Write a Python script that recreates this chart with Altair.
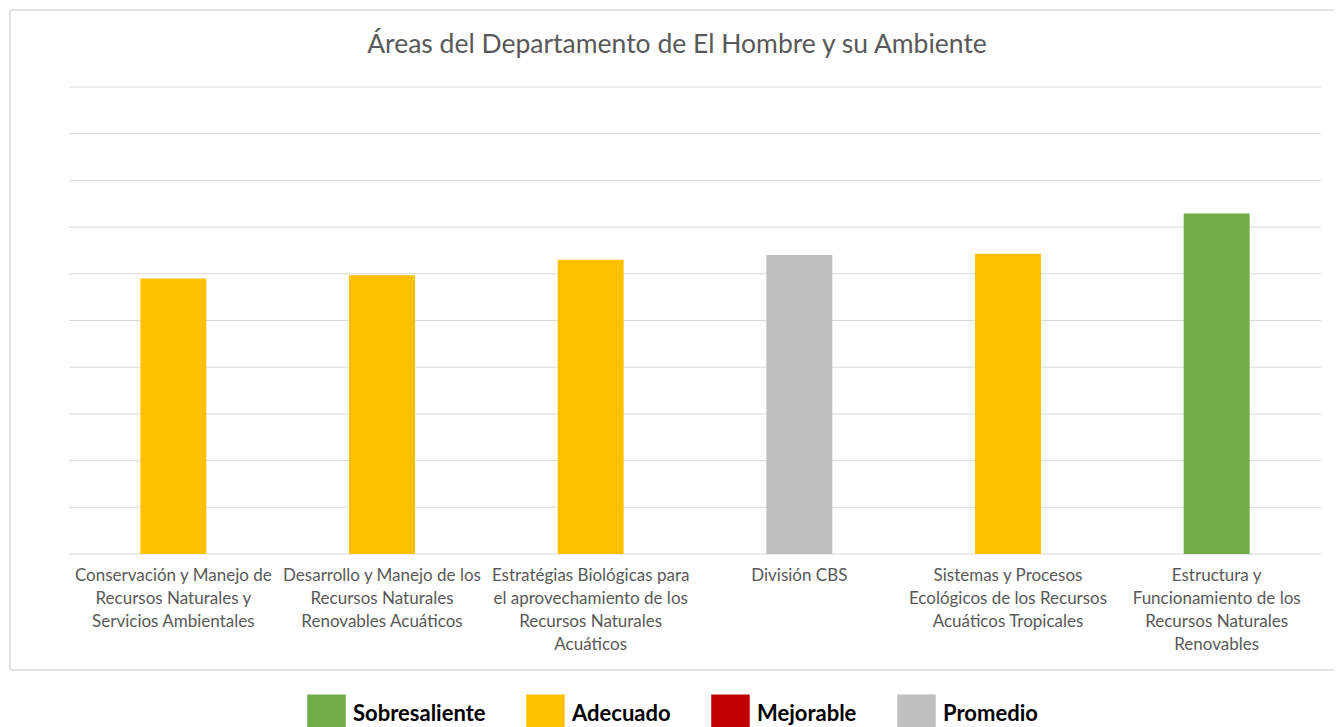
import altair as alt
import pandas as pd

# ---- data ----
areas = [
    "Conservación y Manejo de\nRecursos Naturales y\nServicios Ambientales",
    "Desarrollo y Manejo de los\nRecursos Naturales\nRenovables Acuáticos",
    "Estratégias Biológicas para\nel aprovechamiento de los\nRecursos Naturales\nAcuáticos",
    "División CBS",
    "Sistemas y Procesos\nEcológicos de los Recursos\nAcuáticos Tropicales",
    "Estructura y\nFuncionamiento de los\nRecursos Naturales\nRenovables",
]
values = [5.90, 5.97, 6.30, 6.40, 6.43, 7.29]
levels = ["Adecuado", "Adecuado", "Adecuado", "Promedio", "Adecuado", "Sobresaliente"]

legend_levels = ["Sobresaliente", "Adecuado", "Mejorable", "Promedio"]
legend_colors = ["#70AD47", "#FFC000", "#C00000", "#BFBFBF"]

grid_values = [0, 1, 2, 3, 4, 5, 6, 7, 8, 9, 10]
title_text = "Áreas del Departamento de El Hombre y su Ambiente"

FONT = "Lato"
GRAY_TXT = "#595959"
BORDER = "#D9D9D9"

df = pd.DataFrame({"idx": list(range(len(areas))), "area": areas, "valor": values, "nivel": levels})
grid_df = pd.DataFrame({"g": grid_values})
title_df = pd.DataFrame({"t": [title_text]})
one = pd.DataFrame({"k": [0]})

W, H = 1324, 660

xscale = alt.Scale(domain=list(range(len(areas))), range=[59, 1311], paddingInner=0.684, paddingOuter=0.342)
yscale = alt.Scale(domain=[0, 10], range=[544, 77], nice=False, zero=True)

# chart frame (top, left, bottom; right edge lies beyond the picture)
frame_top = alt.Chart(one).mark_rule(color=BORDER, strokeWidth=1.5).encode(
    x=alt.value(0), x2=alt.value(W + 5), y=alt.value(0))
frame_bottom = alt.Chart(one).mark_rule(color=BORDER, strokeWidth=1.5).encode(
    x=alt.value(0), x2=alt.value(W + 5), y=alt.value(H))
frame_left = alt.Chart(one).mark_rule(color=BORDER, strokeWidth=1.5).encode(
    x=alt.value(0), y=alt.value(0), y2=alt.value(H))

grid = alt.Chart(grid_df).mark_rule(color=BORDER, strokeWidth=1).encode(
    y=alt.Y("g:Q", scale=yscale, axis=None),
    x=alt.value(59),
    x2=alt.value(1311),
)

bars = alt.Chart(df).mark_bar().encode(
    x=alt.X("idx:O", scale=xscale, axis=None),
    y=alt.Y("valor:Q", scale=yscale, axis=None),
    color=alt.Color(
        "nivel:N",
        scale=alt.Scale(domain=legend_levels, range=legend_colors),
        legend=alt.Legend(
            title=None,
            orient="none",
            legendX=297,
            legendY=684,
            direction="horizontal",
            symbolType="square",
            symbolSize=1482,
            symbolStrokeWidth=0,
            labelFont=FONT,
            labelFontSize=22,
            labelFontWeight="bold",
            labelColor="#000000",
            labelOffset=7,
            columnPadding=40,
            padding=0,
            labelLimit=300,
        ),
    ),
)

labels = alt.Chart(df).mark_text(
    baseline="top", align="center", lineBreak="\n", lineHeight=23,
    font=FONT, fontSize=17, color=GRAY_TXT,
).encode(
    x=alt.X("idx:O", scale=xscale, axis=None),
    y=alt.value(558),
    text="area:N",
)

title = alt.Chart(title_df).mark_text(
    font=FONT, fontSize=26.5, color=GRAY_TXT, align="center", baseline="middle",
).encode(
    x=alt.value(667),
    y=alt.value(35),
    text="t:N",
)

chart = alt.layer(frame_top, frame_bottom, frame_left, grid, bars, labels, title).properties(
    width=W,
    height=H,
    autosize=alt.AutoSizeParams(type="none"),
    padding={"left": 2, "top": 2, "right": 0, "bottom": 57},
).configure_view(stroke=None)

chart.save("out.html", embed_options={"renderer": "svg", "actions": False})
